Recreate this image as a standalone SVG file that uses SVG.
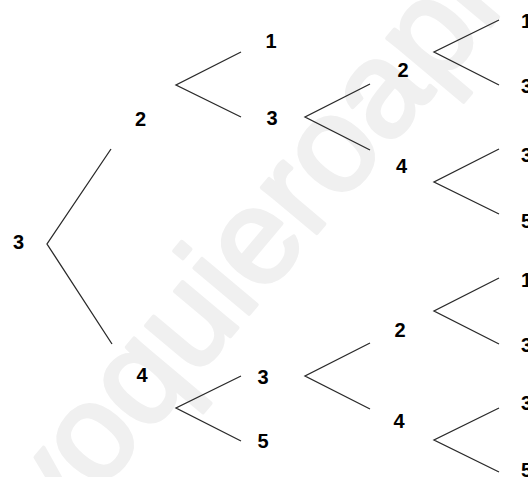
<svg xmlns="http://www.w3.org/2000/svg" width="528" height="477" viewBox="0 0 528 477">
<style>
.lbl{font-family:"Liberation Sans",Arial,sans-serif;font-size:20px;font-weight:bold;fill:#000;text-anchor:middle}
.edge{stroke:#2a2a2a;stroke-width:1.3;fill:none}
.wm{font-family:"Liberation Sans",Arial,sans-serif;font-size:135px;fill:#f0f0f0;stroke:#f0f0f0;stroke-width:4;stroke-linejoin:round}
</style>
<rect width="528" height="477" fill="#fff"/>
<text class="wm" transform="translate(55,545) rotate(-50)">yoquieroaprobar</text>
<g id="connectors">
<path class="edge" d="M111,149 L47,244 L112,344"/>
<path class="edge" d="M241,52 L176,85 L241,117"/>
<path class="edge" d="M241,376 L176,408 L241,441"/>
<path class="edge" d="M370,84 L305,117 L370,150"/>
<path class="edge" d="M370,343 L305,376 L370,409"/>
<path class="edge" d="M499,20 L434,52 L499,85"/>
<path class="edge" d="M499,149 L434,182 L499,214"/>
<path class="edge" d="M499,278 L434,311 L499,344"/>
<path class="edge" d="M499,408 L434,440 L499,472"/>
</g>
<g id="n_root"><text class="lbl" x="18.5" y="249">3</text></g>
<g id="n_a"><text class="lbl" x="140.5" y="126">2</text></g>
<g id="n_b"><text class="lbl" x="142" y="382">4</text></g>
<g id="n_a1"><text class="lbl" x="271" y="48">1</text></g>
<g id="n_a3"><text class="lbl" x="272" y="125">3</text></g>
<g id="n_b3"><text class="lbl" x="263" y="384">3</text></g>
<g id="n_b5"><text class="lbl" x="263" y="448">5</text></g>
<g id="n_a32"><text class="lbl" x="403" y="77">2</text></g>
<g id="n_a34"><text class="lbl" x="401.5" y="173">4</text></g>
<g id="n_b32"><text class="lbl" x="400" y="337">2</text></g>
<g id="n_b34"><text class="lbl" x="399" y="428">4</text></g>
<g id="n_a321"><text class="lbl" x="526.5" y="28">1</text></g>
<g id="n_a323"><text class="lbl" x="526.5" y="93">3</text></g>
<g id="n_a343"><text class="lbl" x="526.5" y="162">3</text></g>
<g id="n_a345"><text class="lbl" x="526.5" y="228">5</text></g>
<g id="n_b321"><text class="lbl" x="526.5" y="287">1</text></g>
<g id="n_b323"><text class="lbl" x="526.5" y="352">3</text></g>
<g id="n_b343"><text class="lbl" x="526.5" y="410">3</text></g>
<g id="n_b345"><text class="lbl" x="526.5" y="477">5</text></g>
</svg>
